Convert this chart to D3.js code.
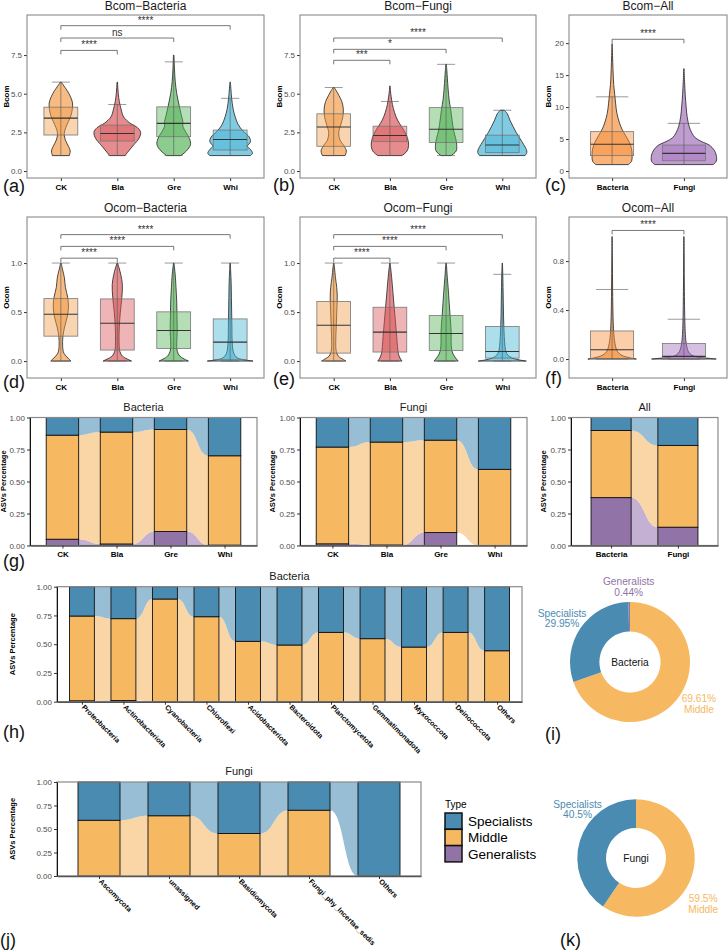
<!DOCTYPE html>
<meta charset=utf-8>
<style>
body { margin: 0; background: #fff }
svg { display: block }
</style>
<script src="https://cdn.jsdelivr.net/npm/d3@7"></script>
<body>
<svg id=fig width=728 height=951></svg>
<script>
const FONT = "'Liberation Sans', Arial, sans-serif";

// ---------- (a)-(f) violin + box data ----------
const treatments = ["CK", "Bla", "Gre", "Whi"];
const kingdoms = ["Bacteria", "Fungi"];
const treatColors = ["#F2A04F", "#DB5B5E", "#5CB660", "#4AB5D5"];
const kingColors = ["#F7913D", "#A473BC"];

// box stats: [lower whisker, q1, median, q3, upper whisker]
const bcomBacBox = [[1, 2.33, 3.42, 4.13, 5.75], [1, 1.94, 2.43, 2.97, 4.3], [1, 2.22, 3.08, 4.15, 7.06], [1, 1.36, 2.04, 2.65, 4.7]];
const bcomFunBox = [[1, 1.6, 2.85, 3.7, 5.4], [1, 1.9, 2.3, 2.9, 4.5], [1, 1.85, 2.7, 4.1, 6.9], [1, 1.2, 1.68, 2.32, 3.93]];
const bcomAllBox = [[1, 2.4, 4.17, 6.15, 11.6], [1, 1.6, 2.76, 4.06, 7.45]];
const ocomBacBox = [[0, .254, .478, .637, 1], [0, .112, .386, .634, 1], [0, .129, .312, .502, 1], [0, .014, .193, .43, 1]];
const ocomFunBox = [[0, .081, .366, .607, 1], [0, .092, .295, .549, 1], [0, .108, .281, .464, 1], [0, .03, .098, .353, .885]];
const ocomAllBox = [[0, .005, .076, .229, .568], [0, 0, .022, .126, .325]];

// violin outlines: [value, relative half-width]
const bcomBacDens = [
  [[1, .33], [1.3, .37], [1.6, .3], [2, .18], [2.4, .13], [2.8, .19], [3.2, .3], [3.6, .4], [4, .45], [4.4, .46], [4.8, .38], [5.2, .25], [5.5, .12], [5.75, .02]],
  [[1, .3], [1.3, .45], [1.7, .65], [2.1, .85], [2.5, .92], [2.8, .8], [3.1, .5], [3.5, .25], [4, .15], [4.5, .08], [5, .04], [5.4, .02], [5.75, .01]],
  [[1, .28], [1.3, .5], [1.7, .66], [2.1, .62], [2.5, .48], [2.9, .36], [3.2, .36], [3.6, .3], [4.2, .22], [5, .12], [5.8, .06], [6.6, .03], [7.5, .01]],
  [[1, .8], [1.15, .88], [1.4, .8], [1.6, .68], [1.9, .8], [2.2, .75], [2.6, .5], [3, .32], [3.5, .2], [4, .12], [4.7, .06], [5.3, .03], [5.75, .01]]
];
const bcomFunDens = [
  [[1, .45], [1.3, .5], [1.6, .42], [2, .25], [2.5, .2], [3, .28], [3.5, .36], [4, .38], [4.5, .32], [4.9, .2], [5.2, .1], [5.4, .02]],
  [[1, .48], [1.3, .68], [1.7, .74], [2.1, .7], [2.5, .6], [2.9, .45], [3.3, .3], [3.8, .18], [4.3, .1], [4.8, .05], [5.2, .02], [5.5, .01]],
  [[1, .2], [1.3, .4], [1.7, .42], [2.1, .38], [2.6, .3], [3, .26], [3.5, .22], [4, .18], [4.6, .12], [5.3, .08], [6, .05], [6.5, .03], [6.9, .01]],
  [[1, .9], [1.2, .97], [1.4, .95], [1.7, .85], [2.1, .7], [2.5, .55], [2.9, .42], [3.3, .3], [3.7, .2], [3.93, .08]]
];
const bcomAllDens = [
  [[1, .5], [1.5, .6], [2.5, .62], [3.5, .6], [4.5, .53], [5.5, .42], [6.5, .31], [7.5, .23], [9, .15], [10.5, .11], [12, .08], [13.5, .05], [15, .035], [17, .02], [19, .008], [19.9, .003]],
  [[1, .9], [1.5, 1], [2.5, 1], [3.3, .93], [4, .8], [4.6, .55], [5.2, .35], [6, .24], [7, .16], [8.5, .1], [10, .07], [12, .04], [14, .02], [16, .004]]
];
const ocomBacDens = [
  [[0, .4], [.03, .28], [.08, .12], [.15, .07], [.25, .08], [.35, .15], [.45, .25], [.55, .3], [.65, .27], [.75, .18], [.85, .14], [.93, .07], [1, .01]],
  [[0, .56], [.02, .4], [.05, .2], [.1, .1], [.2, .07], [.35, .08], [.5, .12], [.65, .18], [.78, .2], [.88, .14], [.95, .07], [1, .01]],
  [[0, .58], [.02, .42], [.05, .24], [.1, .14], [.2, .12], [.3, .14], [.45, .13], [.6, .12], [.75, .09], [.88, .06], [.95, .03], [1, .01]],
  [[0, .9], [.01, .6], [.03, .3], [.06, .18], [.1, .12], [.2, .08], [.35, .07], [.5, .06], [.65, .05], [.8, .04], [.92, .02], [1, .005]]
];
const ocomFunDens = [
  [[0, .48], [.02, .35], [.05, .18], [.1, .1], [.2, .08], [.35, .1], [.5, .12], [.65, .14], [.75, .12], [.85, .07], [.95, .03], [1, .005]],
  [[0, .48], [.03, .4], [.08, .33], [.15, .3], [.25, .27], [.4, .22], [.55, .17], [.7, .12], [.85, .07], [.95, .03], [1, .005]],
  [[0, .48], [.03, .38], [.07, .28], [.12, .22], [.2, .2], [.3, .2], [.45, .16], [.6, .12], [.75, .08], [.88, .04], [.96, .02], [1, .005]],
  [[0, .95], [.01, .7], [.03, .4], [.06, .22], [.1, .14], [.2, .09], [.3, .07], [.45, .05], [.6, .04], [.75, .03], [.88, .02], [1, .005]]
];
const ocomAllDens = [
  [[0, .75], [.01, .55], [.03, .3], [.06, .17], [.1, .11], [.15, .075], [.2, .055], [.3, .035], [.4, .025], [.55, .017], [.7, .012], [.85, .007], [1, .003]],
  [[0, 1], [.005, .8], [.015, .45], [.03, .25], [.06, .14], [.1, .09], [.15, .06], [.2, .045], [.3, .03], [.4, .022], [.55, .015], [.7, .01], [.85, .007], [1, .003]]
];

// significance brackets: [from, to, height, label]
const bcomBacSig = [["CK", "Bla", 7.8, "****"], ["CK", "Gre", 8.6, "ns"], ["CK", "Whi", 9.4, "****"]];
const bcomFunSig = [["CK", "Bla", 7.16, "***"], ["CK", "Gre", 7.87, "*"], ["CK", "Whi", 8.6, "****"]];
const bcomAllSig = [["Bacteria", "Fungi", 20.6, "****"]];
const ocomBacSig = [["CK", "Bla", 1.05, "****"], ["CK", "Gre", 1.17, "****"], ["CK", "Whi", 1.29, "****"]];
const ocomFunSig = [["CK", "Bla", 1.05, "****"], ["CK", "Gre", 1.17, "****"], ["CK", "Whi", 1.29, "****"]];
const ocomAllSig = [["Bacteria", "Fungi", 1.05, "****"]];

// ---------- (g)-(k) composition data ----------
const types = ["Specialists", "Middle", "Generalists"];
const typeColors = ["#4A8BB2", "#F7B862", "#9273A8"];
const flowColors = ["#97BED5", "#FAD6A6", "#C3B0D3"];

const treatBacSpec = [0.138, 0.114, 0.094, 0.299];
const treatBacMid = [0.813, 0.874, 0.797, 0.698];
const treatBacGen = [0.049, 0.012, 0.109, 0.003];
const treatFunSpec = [0.231, 0.192, 0.177, 0.405];
const treatFunMid = [0.756, 0.804, 0.722, 0.595];
const treatFunGen = [0.013, 0.004, 0.101, 0];
const kingSpec = [0.101, 0.218];
const kingMid = [0.525, 0.639];
const kingGen = [0.374, 0.143];

const bacPhyla = ["Proteobacteria", "Actinobacteriota", "Cyanobacteria", "Chloroflexi", "Acidobacteriota", "Bacteroidota", "Planctomycetota", "Gemmatimonadota", "Myxococcota", "Deinococcota", "Others"];
const bacPhylaSpec = [0.255, 0.278, 0.107, 0.261, 0.475, 0.507, 0.397, 0.452, 0.525, 0.397, 0.557];
const bacPhylaMid = [0.737, 0.712, 0.893, 0.739, 0.525, 0.493, 0.603, 0.548, 0.475, 0.603, 0.443];
const bacPhylaGen = [0.008, 0.01, 0, 0, 0, 0, 0, 0, 0, 0, 0];

const funPhyla = ["Ascomycota", "unassigned", "Basidiomycota", "Fungi_phy_Incertae_sedis", "Others"];
const funPhylaSpec = [0.407, 0.359, 0.548, 0.30, 1];
const funPhylaMid = [0.593, 0.641, 0.452, 0.70, 0];
const funPhylaGen = [0, 0, 0, 0, 0];

// donuts: shares in %, order clockwise from 12 o'clock; label anchor [degrees, radius factor]
const bacPieTypes = ["Middle", "Specialists", "Generalists"];
const bacPieShare = [69.61, 29.95, 0.44];
const bacPieLabelPos = [[121, 1.34], [303, 1.35], [359, 1.26]];
const funPieTypes = ["Middle", "Specialists"];
const funPieShare = [59.5, 40.5];
const funPieLabelPos = [[124, 1.38], [310, 1.3]];

const svg = d3.select("#fig").attr("font-family", FONT);

function styleAxis(a, size, bold, color) {
  a.attr("font-family", FONT).attr("font-size", size);
  a.selectAll("text").attr("fill", color).attr("font-weight", bold ? "bold" : null);
  a.selectAll(".tick line").attr("stroke", "#333");
}

function violinPanel(o) {
  const g = svg.append("g");
  const x = d3.scalePoint().domain(o.cats).range([o.x0, o.x1]).padding(0.6);
  const st = x.step();
  const y = d3.scaleLinear().domain(o.domain).range([o.y1, o.y0]);
  const w = d3.scaleLinear().domain([0, 1]).range([0, st * 0.45]);

  g.append("text").attr("x", (o.x0 + o.x1) / 2).attr("y", o.y0 - 5)
    .attr("text-anchor", "middle").attr("font-size", 12).attr("fill", "#1a1a1a").text(o.title);

  g.append("g").attr("transform", `translate(${o.x0},0)`)
    .call(d3.axisLeft(y).tickValues(o.ticks).tickFormat(d3.format(o.fmt)).tickSize(3).tickPadding(2))
    .call(a => { a.select(".domain").remove(); styleAxis(a, 8, false, "#4d4d4d"); });
  g.append("g").attr("transform", `translate(0,${o.y1})`)
    .call(d3.axisBottom(x).tickSize(3).tickPadding(3))
    .call(a => { a.select(".domain").remove(); styleAxis(a, 8, true, "#000"); });
  g.append("text").attr("transform", `translate(${o.x0 - 18},${(o.y0 + o.y1) / 2}) rotate(-90)`)
    .attr("text-anchor", "middle").attr("font-size", 8).attr("font-weight", "bold").text(o.ylab);

  const bw = st * 0.3, cw = st * o.cap / 2;
  o.cats.forEach((c, i) => {
    const cx = x(c), b = o.box[i], col = o.colors[i];
    const area = d3.area().curve(d3.curveCatmullRom)
      .y(d => y(d[0])).x0(d => cx - w(d[1])).x1(d => cx + w(d[1]));
    g.append("path").attr("d", area(o.dens[i]))
      .attr("fill", col).attr("fill-opacity", 0.7).attr("stroke", "#222").attr("stroke-width", 0.8);
    g.append("rect").attr("x", cx - bw).attr("width", 2 * bw)
      .attr("y", y(b[3])).attr("height", y(b[1]) - y(b[3]))
      .attr("fill", col).attr("fill-opacity", 0.45).attr("stroke", "#777").attr("stroke-width", 0.8);
    g.append("path")
      .attr("d", `M${cx},${y(b[0])}V${y(b[4])}M${cx - cw},${y(b[4])}H${cx + cw}M${cx - cw},${y(b[0])}H${cx + cw}`)
      .attr("stroke", "#555").attr("stroke-width", 0.6).attr("fill", "none");
    g.append("line").attr("x1", cx - bw).attr("x2", cx + bw).attr("y1", y(b[2])).attr("y2", y(b[2]))
      .attr("stroke", "#333").attr("stroke-width", 1.1);
  });

  o.sig.forEach(s => {
    const yy = y(s[2]);
    g.append("path").attr("d", `M${x(s[0])},${yy + 4}V${yy}H${x(s[1])}V${yy + 4}`)
      .attr("stroke", "#555").attr("stroke-width", 0.8).attr("fill", "none");
    g.append("text").attr("x", (x(s[0]) + x(s[1])) / 2).attr("y", yy - 2)
      .attr("text-anchor", "middle").attr("font-size", 10).attr("fill", "#333").text(s[3]);
  });

  g.append("rect").attr("x", o.x0).attr("y", o.y0).attr("width", o.x1 - o.x0).attr("height", o.y1 - o.y0)
    .attr("fill", "none").attr("stroke", "#7f7f7f").attr("stroke-width", 1);
}

function alluvialPanel(o) {
  const g = svg.append("g");
  const x = d3.scalePoint().domain(o.cats).range([o.x0, o.x1]).padding(0.6);
  const bw = x.step() * 0.6;
  const y = d3.scaleLinear().domain([0, 1]).range([o.y1, o.y0]);
  const rows = o.cats.map((c, i) => ({Specialists: o.spec[i], Middle: o.mid[i], Generalists: o.gen[i]}));
  const series = d3.stack().keys(types.slice().reverse())(rows);
  const flow = d3.area().curve(d3.curveBumpX).x(d => d.x).y0(d => y(d.lo)).y1(d => y(d.hi));

  g.append("text").attr("x", (o.x0 + o.x1) / 2).attr("y", o.y0 - 7)
    .attr("text-anchor", "middle").attr("font-size", 11).attr("fill", "#1a1a1a").text(o.title);

  series.forEach(s => {
    const k = types.indexOf(s.key);
    for (let i = 0; i < s.length - 1; i++) {
      const a = s[i], b = s[i + 1];
      if (a[1] - a[0] <= 0 || b[1] - b[0] <= 0) continue;
      g.append("path")
        .attr("d", flow([{x: x(o.cats[i]) + bw / 2, lo: a[0], hi: a[1]}, {x: x(o.cats[i + 1]) - bw / 2, lo: b[0], hi: b[1]}]))
        .attr("fill", flowColors[k]);
    }
  });
  series.forEach(s => {
    const k = types.indexOf(s.key);
    s.forEach((d, i) => {
      if (d[1] - d[0] <= 0) return;
      g.append("rect").attr("x", x(o.cats[i]) - bw / 2).attr("width", bw)
        .attr("y", y(d[1])).attr("height", y(d[0]) - y(d[1]))
        .attr("fill", typeColors[k]).attr("stroke", "#111").attr("stroke-width", 0.9);
    });
  });

  g.append("rect").attr("x", o.x0).attr("y", o.y0).attr("width", o.x1 - o.x0).attr("height", o.y1 - o.y0)
    .attr("fill", "none").attr("stroke", "#8a8a8a").attr("stroke-width", 1.2);
  g.append("g").attr("transform", `translate(${o.x0},0)`)
    .call(d3.axisLeft(y).tickValues([0, 0.25, 0.5, 0.75, 1]).tickFormat(d3.format(".2f")).tickSize(3).tickPadding(2).tickSizeOuter(0))
    .call(a => { a.select(".domain").attr("stroke", "#111"); styleAxis(a, 8, false, "#4d4d4d"); });
  const xa = g.append("g").attr("transform", `translate(0,${o.y1})`)
    .call(d3.axisBottom(x).tickSize(3).tickPadding(3).tickSizeOuter(0))
    .call(a => { a.select(".domain").attr("stroke", "#555").attr("stroke-width", 1.4); styleAxis(a, 8, true, "#000"); });
  if (o.rotate) {
    xa.selectAll(".tick text").attr("text-anchor", "start").attr("dy", null).attr("y", 0)
      .attr("font-size", 7.2).attr("transform", "translate(-1,6) rotate(45)");
  }
  g.append("text").attr("transform", `translate(${o.x0 - o.ylabOff},${(o.y0 + o.y1) / 2}) rotate(-90)`)
    .attr("text-anchor", "middle").attr("font-size", 7.5).attr("font-weight", "bold").text("ASVs Percentage");
}

function donut(o) {
  const g = svg.append("g").attr("transform", `translate(${o.cx},${o.cy})`);
  const pie = d3.pie().sort(null).value(d => d.v);
  const arcs = pie(o.types.map((t, i) => ({t, v: o.share[i], pos: o.labelPos[i]})));
  const arc = d3.arc().innerRadius(o.r * 0.51).outerRadius(o.r);
  g.selectAll("path").data(arcs).join("path").attr("d", arc)
    .attr("fill", d => typeColors[types.indexOf(d.data.t)]);
  g.append("text").attr("y", 4).attr("text-anchor", "middle").attr("font-size", 10.2).attr("fill", "#111").text(o.name);
  arcs.forEach(d => {
    const ang = d.data.pos[0] * Math.PI / 180, R = o.r * d.data.pos[1];
    const lx = Math.sin(ang) * R, ly = -Math.cos(ang) * R;
    const lines = ly > 0 ? [d.data.v + "%", d.data.t] : [d.data.t, d.data.v + "%"];
    const t = g.append("text").attr("text-anchor", "middle").attr("font-size", 10.2)
      .attr("fill", typeColors[types.indexOf(d.data.t)]);
    lines.forEach((s, j) => t.append("tspan").attr("x", lx).attr("y", ly - 1 + j * 10.5).text(s));
  });
}

function panelLabel(s, x, y) {
  svg.append("text").attr("x", x).attr("y", y).attr("font-size", 18).attr("fill", "#111").text(s);
}

// row 1
violinPanel({x0: 27, x1: 264, y0: 15, y1: 178, cats: treatments, colors: treatColors, domain: [-0.45, 10.09], ticks: [0, 2.5, 5, 7.5], fmt: ".1f", title: "Bcom\u2212Bacteria", ylab: "Bcom", box: bcomBacBox, dens: bcomBacDens, sig: bcomBacSig, cap: 0.32});
violinPanel({x0: 300, x1: 536, y0: 15, y1: 178, cats: treatments, colors: treatColors, domain: [-0.45, 10.09], ticks: [0, 2.5, 5, 7.5], fmt: ".1f", title: "Bcom\u2212Fungi", ylab: "Bcom", box: bcomFunBox, dens: bcomFunDens, sig: bcomFunSig, cap: 0.32});
violinPanel({x0: 569, x1: 727, y0: 15, y1: 178, cats: kingdoms, colors: kingColors, domain: [-1.1, 24.4], ticks: [0, 5, 10, 15, 20], fmt: "d", title: "Bcom\u2212All", ylab: "Bcom", box: bcomAllBox, dens: bcomAllDens, sig: bcomAllSig, cap: 0.45});
// row 2
violinPanel({x0: 27, x1: 264, y0: 217, y1: 378, cats: treatments, colors: treatColors, domain: [-0.173, 1.47], ticks: [0, 0.5, 1], fmt: ".1f", title: "Ocom\u2212Bacteria", ylab: "Ocom", box: ocomBacBox, dens: ocomBacDens, sig: ocomBacSig, cap: 0.32});
violinPanel({x0: 300, x1: 536, y0: 217, y1: 378, cats: treatments, colors: treatColors, domain: [-0.173, 1.47], ticks: [0, 0.5, 1], fmt: ".1f", title: "Ocom\u2212Fungi", ylab: "Ocom", box: ocomFunBox, dens: ocomFunDens, sig: ocomFunSig, cap: 0.32});
violinPanel({x0: 569, x1: 727, y0: 217, y1: 378, cats: kingdoms, colors: kingColors, domain: [-0.155, 1.16], ticks: [0, 0.4, 0.8], fmt: ".1f", title: "Ocom\u2212All", ylab: "Ocom", box: ocomAllBox, dens: ocomAllDens, sig: ocomAllSig, cap: 0.45});
// row 3
alluvialPanel({x0: 30, x1: 257, y0: 417.5, y1: 545.5, cats: treatments, spec: treatBacSpec, mid: treatBacMid, gen: treatBacGen, title: "Bacteria", ylabOff: 24});
alluvialPanel({x0: 300, x1: 527, y0: 417.5, y1: 545.5, cats: treatments, spec: treatFunSpec, mid: treatFunMid, gen: treatFunGen, title: "Fungi", ylabOff: 25});
alluvialPanel({x0: 571, x1: 718, y0: 417.5, y1: 545.5, cats: kingdoms, spec: kingSpec, mid: kingMid, gen: kingGen, title: "All", ylabOff: 25});
// row 4
alluvialPanel({x0: 57, x1: 522, y0: 586.7, y1: 701.7, cats: bacPhyla, spec: bacPhylaSpec, mid: bacPhylaMid, gen: bacPhylaGen, title: "Bacteria", ylabOff: 42, rotate: true});
donut({cx: 630, cy: 662, r: 60, name: "Bacteria", types: bacPieTypes, share: bacPieShare, labelPos: bacPieLabelPos});
// row 5
alluvialPanel({x0: 57, x1: 421, y0: 782, y1: 876, cats: funPhyla, spec: funPhylaSpec, mid: funPhylaMid, gen: funPhylaGen, title: "Fungi", ylabOff: 42, rotate: true});
donut({cx: 636, cy: 858, r: 58.7, name: "Fungi", types: funPieTypes, share: funPieShare, labelPos: funPieLabelPos});

// legend
const leg = svg.append("g").attr("transform", "translate(445,813)");
leg.append("text").attr("x", 0).attr("y", -5).attr("font-size", 10).text("Type");
types.forEach((t, i) => {
  leg.append("rect").attr("x", 0).attr("y", i * 16.3).attr("width", 17).attr("height", 16.3)
    .attr("fill", typeColors[i]).attr("stroke", "#111").attr("stroke-width", 1.5);
  leg.append("text").attr("x", 23).attr("y", i * 16.3 + 13).attr("font-size", 13.5).text(t);
});

panelLabel("(a)", 3, 192); panelLabel("(b)", 273, 191); panelLabel("(c)", 545, 191);
panelLabel("(d)", 3, 388); panelLabel("(e)", 273, 385); panelLabel("(f)", 545, 384);
panelLabel("(g)", 3, 567); panelLabel("(h)", 3, 738); panelLabel("(i)", 545, 740);
panelLabel("(j)", 0, 946); panelLabel("(k)", 560, 946);
</script>
</body>
